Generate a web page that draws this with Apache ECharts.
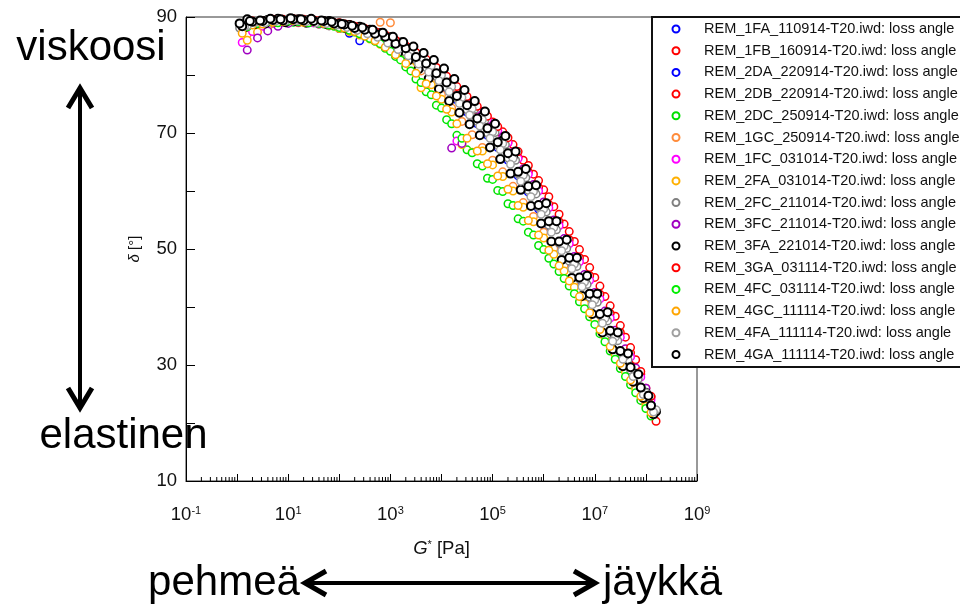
<!DOCTYPE html>
<html><head><meta charset="utf-8">
<script src="https://cdn.jsdelivr.net/npm/echarts@6/dist/echarts.min.js"></script>
<style>html,body{margin:0;padding:0;background:#fff}#c{width:960px;height:611px}</style>
</head><body><div id="c"></div>
<script>
// ---- data ----
const seriesNames = [
  'REM_1FA_110914-T20.iwd: loss angle','REM_1FB_160914-T20.iwd: loss angle','REM_2DA_220914-T20.iwd: loss angle',
  'REM_2DB_220914-T20.iwd: loss angle','REM_2DC_250914-T20.iwd: loss angle','REM_1GC_250914-T20.iwd: loss angle',
  'REM_1FC_031014-T20.iwd: loss angle','REM_2FA_031014-T20.iwd: loss angle','REM_2FC_211014-T20.iwd: loss angle',
  'REM_3FC_211014-T20.iwd: loss angle','REM_3FA_221014-T20.iwd: loss angle','REM_3GA_031114-T20.iwd: loss angle',
  'REM_4FC_031114-T20.iwd: loss angle','REM_4GC_111114-T20.iwd: loss angle','REM_4FA_111114-T20.iwd: loss angle',
  'REM_4GA_111114-T20.iwd: loss angle'
];
const seriesColors = ['#0000ff','#ff0000','#0000ff','#ff0000','#00e000','#ff8c3c','#ff00ff','#ffb000',
  '#808080','#a000c0','#000000','#ff0000','#00ee00','#ffa500','#a0a0a0','#000000'];

// G* values [Pa]
const gA = [1.26,2,3.16,5.01,7.94,12.6,20,31.6,50.1,79.4,126,200,316,501,794,1.26e3,2e3,3.16e3,5.01e3,7.94e3,
  1.26e4,2e4,3.16e4,5.01e4,7.94e4,1.26e5,2e5,3.16e5,5.01e5,7.94e5,1.26e6,2e6,3.16e6,5.01e6,7.94e6,
  1.26e7,2e7,3.16e7,5.01e7,7.94e7,1.26e8];
const gB = [1.41,2.24,3.55,5.62,8.91,14.1,22.4,35.5,56.2,89.1,141,224,355,562,891,1.41e3,2.24e3,3.55e3,5.62e3,8.91e3,
  1.41e4,2.24e4,3.55e4,5.62e4,8.91e4,1.41e5,2.24e5,3.55e5,5.62e5,8.91e5,1.41e6,2.24e6,3.55e6,5.62e6,8.91e6,
  1.41e7,2.24e7,3.55e7,5.62e7,8.91e7,1.41e8];
const gC = [1.12,1.78,2.82,4.47,7.08,11.2,17.8,28.2,44.7,70.8,112,178,282,447,708,1.12e3,1.78e3,2.82e3,4.47e3,7.08e3,
  1.12e4,1.78e4,2.82e4,4.47e4,7.08e4,1.12e5,1.78e5,2.82e5,4.47e5,7.08e5,1.12e6,1.78e6,2.82e6,4.47e6,7.08e6,
  1.12e7,1.78e7,2.82e7,4.47e7,7.08e7,1.12e8];
const gD = [1.58,2.51,3.98,6.31,10,15.8,25.1,39.8,63.1,100,158,251,398,631,1e3,1.58e3,2.51e3,3.98e3,6.31e3,1e4,
  1.58e4,2.51e4,3.98e4,6.31e4,1e5,1.58e5,2.51e5,3.98e5,6.31e5,1e6,1.58e6,2.51e6,3.98e6,6.31e6,1e7,
  1.58e7,2.51e7,3.98e7,6.31e7,1e8,1.58e8];

// loss angle delta [deg]
const d_1FA = [88.2,88.5,89.0,89.1,89.3,89.2,89.4,89.1,88.9,88.6,88.2,87.7,87.2,86.6,85.8,84.8,83.7,82.4,81.0,79.5,77.7,75.7,73.6,71.6,69.6,67.5,65.3,62.6,59.8,56.9,53.9,50.8,47.7,44.6,41.6,38.5,35.4,32.3,29.2,26.1,23.2];
const d_1FB = [88.9,88.7,89.4,89.6,89.3,89.6,89.5,89.4,89.2,89.0,88.7,88.3,87.8,87.3,86.5,85.6,84.5,83.3,82.0,80.6,78.8,77.0,75.3,73.7,71.9,70.2,68.0,65.3,62.9,60.2,57.3,54.3,51.3,48.2,45.1,41.8,38.4,34.8,30.9,26.0,20.3];
const d_2DA = [88.0,88.6,88.9,89.2,89.1,89.3,89.0,88.9,88.5,88.0,87.2,85.9,86.6,86.5,85.8,85.0,84.1,82.9,81.6,80.1,78.2,76.2,74.3,72.4,70.3,68.3,65.7,62.7,60.0,56.9,53.8,50.6,47.4,44.3,41.2,38.0,34.8,31.6,28.4,25.3];
const d_2DB = [88.5,89.1,89.4,89.3,89.6,89.4,89.6,89.2,89.3,88.8,88.5,88.2,87.9,87.3,86.7,85.8,84.9,83.7,82.4,81.0,79.4,77.5,75.7,73.9,72.0,70.2,68.3,65.8,63.3,60.6,57.7,54.7,51.6,48.5,45.4,42.2,38.9,35.6,32.1,28.4,24.5];
const d_2DC = [88.0,88.7,89.0,89.0,89.2,89.1,89.2,89.0,88.8,88.4,88.0,87.4,86.7,85.8,84.6,83.2,81.4,79.3,77.1,74.8,72.3,69.6,67.1,64.7,62.2,60.1,57.8,55.2,52.9,50.6,48.4,46.1,43.6,40.9,38.3,35.4,32.4,29.4,26.6,23.9,21.2];
const d_1GC = [87.0,88.3,88.9,89.2,89.3,89.1,89.4,89.0,88.9,88.5,88.1,87.6,87.0,89.1,89.0,84.2,82.6,80.7,78.7,76.6,74.3,72.0,69.7,67.5,65.3,63.3,60.8,58.0,55.6,52.9,50.1,47.2,44.3,41.4,38.5,35.4,32.3,29.2,26.3,23.4];
const d_1FC = [85.6,87.5,88.4,88.9,89.1,89.3,89.2,89.0,88.9,88.7,88.4,88.0,87.6,87.0,86.6,85.9,84.9,83.8,82.5,81.1,79.4,68.6,75.9,74.1,72.3,70.4,68.3,65.6,62.9,60.0,57.1,54.0,50.9,47.8,44.6,41.4,38.1,34.8,31.4,27.9,24.0];
const d_2FA = [86.0,87.4,88.3,88.8,89.2,89.0,89.1,88.8,88.5,88.0,87.5,86.9,86.2,85.3,84.2,82.9,81.4,77.8,78.3,75.8,73.6,68.0,66.7,66.9,64.5,62.5,60.0,57.2,54.7,51.9,49.1,46.2,43.4,40.6,37.8,34.8,31.8,28.8,25.8,22.9];
const d_2FC = [88.0,88.8,89.1,89.2,89.4,89.3,89.5,89.2,89.0,88.8,88.4,88.0,87.4,86.9,86.0,85.0,83.9,82.7,81.3,79.8,77.9,76.0,74.0,72.0,70.0,67.9,65.7,62.9,60.1,57.2,54.1,51.0,47.9,44.8,41.7,38.6,35.4,32.2,29.1,26.0,22.9];
const d_3FC = [84.3,86.4,87.6,88.4,88.9,89.1,89.0,88.8,88.6,88.3,88.0,87.6,87.2,86.7,86.0,85.2,84.3,83.2,81.9,80.4,67.4,68.2,75.0,73.2,71.2,69.3,66.7,63.8,61.1,58.1,55.0,51.8,48.7,45.6,42.5,39.3,36.0,32.8,29.5,26.0];
const d_3FA = [89.6,89.0,89.5,89.7,89.4,89.6,89.5,89.2,89.3,88.9,88.6,88.3,87.8,87.2,86.5,85.6,84.6,83.5,82.2,80.6,78.7,76.6,74.6,72.8,70.6,68.7,66.0,63.1,60.3,57.3,54.2,51.0,47.8,44.7,41.6,38.3,35.1,31.8,28.5,25.2,22.0];
const d_3GA = [88.3,89.3,89.0,89.6,89.5,89.7,89.4,89.5,89.1,89.0,88.8,88.4,88.0,87.5,86.9,86.0,85.0,83.9,82.7,81.3,79.8,78.0,76.3,74.6,72.9,71.1,69.2,66.8,64.4,61.8,59.0,56.0,53.0,49.9,46.8,43.6,40.2,36.8,33.0,28.9,24.6];
const d_4FC = [88.3,88.9,89.2,89.0,89.3,89.2,89.0,88.9,88.6,88.2,87.7,87.1,86.3,85.4,84.1,82.6,80.7,78.7,76.6,74.3,71.6,69.1,66.6,64.3,62.0,59.9,57.5,54.8,52.4,49.9,47.4,44.9,42.3,39.7,37.0,34.0,31.0,28.0,25.2,22.5];
const d_4GC = [87.2,88.6,88.8,89.1,89.2,89.4,89.1,89.2,88.9,88.6,88.1,87.5,86.7,85.9,84.8,83.5,82.0,80.3,78.5,76.4,74.1,71.6,69.1,66.9,64.7,62.6,60.3,57.5,54.9,52.4,49.8,47.1,44.5,41.8,39.0,36.1,33.2,30.3,27.4,24.6,21.8];
const d_4FA = [88.5,89.3,89.4,89.5,89.7,89.4,89.5,89.3,89.0,88.7,88.5,88.1,87.6,87.0,86.2,85.3,84.2,82.9,81.6,80.0,78.0,76.1,74.2,72.3,70.2,68.2,65.6,62.7,59.9,56.9,53.7,50.5,47.4,44.3,41.2,38.0,34.8,31.6,28.4,25.2,22.3];
const d_4GA = [88.4,89.2,89.3,89.5,89.4,89.6,89.4,89.3,89.3,88.9,88.7,88.1,87.8,87.1,86.6,85.4,84.6,83.1,82.0,80.3,78.7,76.4,74.8,72.5,70.8,68.4,66.5,63.3,60.8,57.6,54.8,51.3,48.5,45.1,42.3,38.8,35.9,32.4,29.6,26.1,23.0];
// second measurement segment of some samples
const d2_2FC = [88.1,88.7,89.2,89.1,89.5,89.4,89.3,89.5,89.1,89.1,88.8,88.5,88.1,87.6,87.0,86.2,85.3,84.3,83.1,81.8,80.1,78.1,76.1,74.1,72.2,70.1,68.0,65.3,62.3,59.5,56.4,53.3,50.1,47.0,43.9,40.8,37.6,34.2,30.9,27.6,24.3];
const d2_3FA = [88.2,88.8,88.9,89.2,89.1,89.3,89.0,89.1,88.8,88.6,88.0,87.5,86.8,86.1,85.0,83.8,82.5,81.0,79.4,77.6,75.5,73.5,71.5,69.6,67.5,65.5,63.0,60.2,57.4,54.4,51.3,48.1,45.0,41.9,38.8,35.6,32.7,29.8,27.1,24.3,21.5];
const d2_4FA = [88.4,89.1,89.0,89.3,89.3,89.4,89.2,89.0,88.9,88.6,88.2,87.7,87.1,86.5,85.5,84.4,83.3,81.9,80.5,79.0,77.1,75.1,73.1,71.2,69.1,67.1,64.6,61.7,59.0,56.0,52.9,49.7,46.6,43.5,40.4,37.2,34.1,31.0,28.0,24.9,21.9];
const d2_4GA = [88.9,89.3,89.4,89.7,89.6,89.8,89.6,89.7,89.4,89.2,88.8,88.5,88.2,87.8,87.3,86.6,85.7,84.9,83.8,82.6,81.1,79.3,77.4,75.5,73.7,71.6,69.5,66.8,63.8,61.0,57.9,54.8,51.6,48.5,45.4,42.3,39.1,35.6,32.0,28.4,24.7];

const seriesDeltas = [d_1FA,d_1FB,d_2DA,d_2DB,d_2DC,d_1GC,d_1FC,d_2FA,d_2FC,d_3FC,d_3FA,d_3GA,d_4FC,d_4GC,d_4FA,d_4GA];
const seriesG = [gA,gD,gD,gA,gA,gD,gA,gD,gA,gD,gD,gA,gD,gA,gD,gA];
const seriesDeltas2 = [null,null,null,null,null,null,null,null,d2_2FC,null,d2_3FA,null,null,null,d2_4FA,d2_4GA];
const seriesG2 = [null,null,null,null,null,null,null,null,gC,null,gB,null,null,null,gB,gC];

// axis ticks / labels
const xTickExps = [-1,1,3,5,7,9];
const yTickLabels = [10,30,50,70,90];
const xMinorMantissas = [2,3,4,5,6,7,8,9];

// ---- chart ----
const FF = '"Liberation Sans", Arial, sans-serif';
const chart = echarts.init(document.getElementById('c'), null, {renderer:'canvas'});

const scatter = seriesNames.map((n, i) => {
  const g = seriesG[i];
  let pts = seriesDeltas[i].map((d, k) => [g[k], d]);
  if (seriesDeltas2[i]) {
    const g2 = seriesG2[i];
    pts = pts.concat(seriesDeltas2[i].map((d, k) => [g2[k], d]));
  }
  const isBlack = seriesColors[i] === '#000000';
  return {
    type: 'scatter', name: n,
    data: pts,
    symbol: 'circle', symbolSize: isBlack ? 8 : 7.5,
    itemStyle: {color: '#ffffff', borderColor: seriesColors[i], borderWidth: isBlack ? 2 : 1.5, opacity: 1},
    emphasis: {disabled: true},
    z: 2
  };
});

const minorTicks = [];
for (let e = -1; e < 9; e++) for (const m of xMinorMantissas) minorTicks.push([m * Math.pow(10, e), 10]);

scatter.push({
  type: 'custom', silent: true, clip: false, z: 6,
  data: minorTicks,
  renderItem: (params, api) => {
    const p = api.coord([api.value(0), 10]);
    return {type: 'line', shape: {x1: p[0], y1: p[1], x2: p[0], y2: p[1] - 4}, style: {stroke: '#000', lineWidth: 1}};
  }
});

const txt = (text, x, y) => ({
  type: 'text', x: x, y: y, z: 100,
  style: {text: text, font: '42px ' + FF, fill: '#000', align: 'center', verticalAlign: 'middle',
          textAlign: 'center', textVerticalAlign: 'middle'}
});
const pl = (pts, w) => ({type: 'polyline', z: 100, shape: {points: pts}, style: {stroke: '#000', lineWidth: w, fill: null, lineJoin: 'miter'}});

chart.setOption({
  animation: false,
  backgroundColor: '#fff',
  grid: {left: 186, right: 263, top: 17, bottom: 130, show: true, borderColor: '#333', borderWidth: 1, backgroundColor: 'transparent'},
  xAxis: {
    type: 'log', logBase: 10, min: 0.1, max: 1e9, interval: 1,
    axisLine: {show: true, lineStyle: {color: '#000', width: 1}},
    axisTick: {show: true, inside: true, length: 7, lineStyle: {color: '#000'}},
    minorTick: {show: false},
    splitLine: {show: false},
    axisLabel: {
      margin: 24,
      formatter: v => { const e = Math.round(Math.log10(v)); return xTickExps.includes(e) ? '{b|10}{s|' + e + '}' : ''; },
      rich: {
        b: {fontSize: 18.5, fontFamily: FF, color: '#111', lineHeight: 22, verticalAlign: 'top'},
        s: {fontSize: 11, fontFamily: FF, color: '#111', lineHeight: 12, verticalAlign: 'top'}
      }
    },
    name: '{i|G}{s|*}{n| [Pa]}', nameLocation: 'middle', nameGap: 58,
    nameTextStyle: {rich: {
      i: {fontSize: 18.5, fontStyle: 'italic', fontFamily: FF, color: '#111', lineHeight: 22, verticalAlign: 'top'},
      s: {fontSize: 11, fontFamily: FF, color: '#111', lineHeight: 12, verticalAlign: 'top'},
      n: {fontSize: 18.5, fontFamily: FF, color: '#111', lineHeight: 22, verticalAlign: 'top'}
    }}
  },
  yAxis: {
    type: 'value', min: 10, max: 90, interval: 10,
    axisLine: {show: true, lineStyle: {color: '#000', width: 1}},
    axisTick: {show: true, inside: true, length: 9, lineStyle: {color: '#000'}},
    splitLine: {show: false},
    axisLabel: {margin: 9, fontSize: 18.5, fontFamily: FF, color: '#111',
      formatter: v => yTickLabels.includes(v) ? String(v) : ''},
    name: '{i|δ}{n| [°]}', nameLocation: 'middle', nameGap: 44, nameRotate: 90,
    nameTextStyle: {rich: {
      i: {fontSize: 15, fontStyle: 'italic', fontFamily: FF, color: '#111'},
      n: {fontSize: 15, fontFamily: FF, color: '#111'}
    }}
  },
  legend: {
    data: seriesNames, orient: 'vertical', left: 652, top: 17,
    padding: [4.5, 60, 5, 19.5], itemGap: 6.7, itemWidth: 7, itemHeight: 7,
    backgroundColor: '#fff', borderColor: '#111', borderWidth: 2, borderRadius: 0,
    selectedMode: false, z: 10,
    textStyle: {fontSize: 14.5, fontFamily: FF, color: '#111', lineHeight: 15, padding: [0, 0, 0, 19.5]}
  },
  graphic: [
    txt('viskoosi', 91, 48),
    txt('elastinen', 123.5, 436),
    txt('pehmeä', 224, 583),
    txt('jäykkä', 662.5, 583),
    pl([[68, 108], [80, 88], [92, 108]], 5),
    pl([[68, 388], [80, 408], [92, 388]], 5),
    pl([[80, 90], [80, 406]], 4),
    pl([[326, 571], [305, 583], [326, 595]], 5),
    pl([[574, 571], [595, 583], [574, 595]], 5),
    pl([[307, 583], [593, 583]], 4)
  ],
  series: scatter
});
</script></body></html>
